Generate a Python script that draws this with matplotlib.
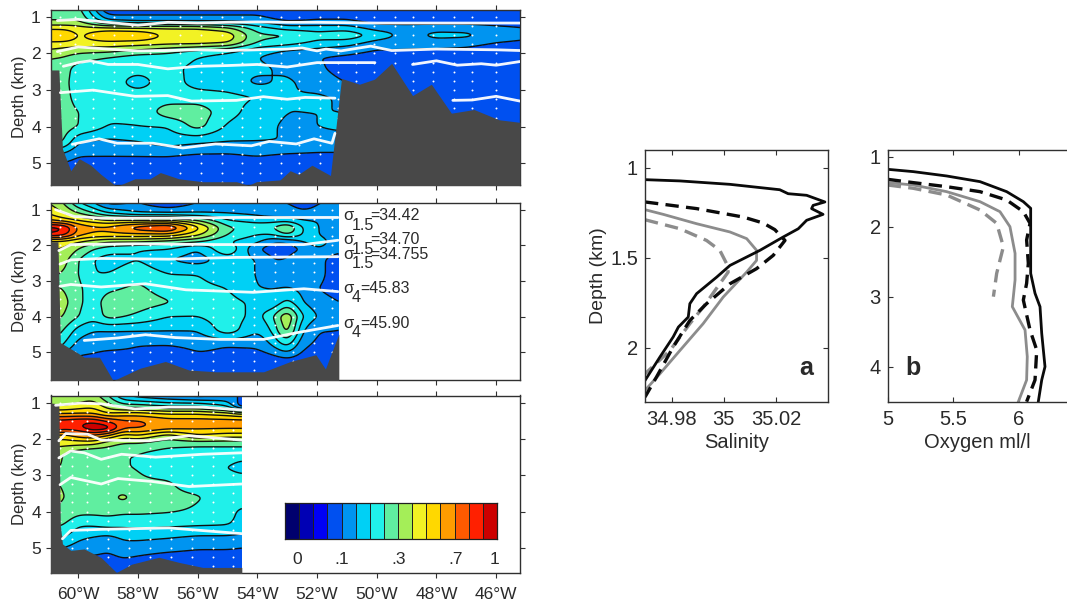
import numpy as np
import matplotlib
matplotlib.use("Agg")
import matplotlib.pyplot as plt
from matplotlib.colors import ListedColormap, BoundaryNorm

plt.rcParams['font.family'] = ['Liberation Sans', 'DejaVu Sans']
TXT = '#2a2a2a'
W, H = 1067, 603

band_colors = ['#00006e', '#0000b4', '#0000f5', '#0050f0', '#0094f0', '#00d0f5', '#20f0ea',
               '#60eea0', '#a4ee58', '#f2f224', '#ffd800', '#ff9c00', '#ff5a00', '#ff2000', '#cc0000']
levels = np.arange(0, 16)
cmap = ListedColormap(band_colors)
norm = BoundaryNorm(levels, cmap.N)

depths = [0.8, 1.1, 1.3, 1.5, 1.7, 1.9, 2.1, 2.4, 2.8, 3.2, 3.6, 4.0, 4.4, 4.8, 5.2, 5.8]

# Section 1
lon1 = [-61, -60.5, -60, -59, -58, -57, -56, -55, -54, -53, -52, -51, -50, -49, -48, -47, -46, -45]
val1 = [
 [7, 7, 7.5, 3, 3.5, 3.5, 3.5, 3.5, 3.5, 3, 3.5, 3.5, 3.5, 3.5, 3.5, 3.5, 3.5, 3.5],
 [8, 8, 8, 5, 4.5, 4.5, 4.5, 4.5, 4.5, 3.8, 4, 4, 3.5, 3.5, 3.5, 3.5, 3.5, 3.5],
 [9.6, 9.6, 9.4, 9.2, 9.1, 9.1, 9, 8.3, 6.5, 5.5, 5.5, 5.5, 4.5, 4.4, 4.5, 4.5, 4.2, 4],
 [11.4, 11.4, 9.8, 11.2, 11, 9.8, 9.9, 9.7, 7.2, 7.2, 6.4, 6.8, 5.8, 4.6, 5.4, 5.3, 4.6, 4.3],
 [9.8, 9.8, 9.7, 9.8, 9.7, 9.5, 9.5, 9.2, 7, 6.5, 5.8, 5.5, 4.6, 4.3, 4.5, 4.4, 4, 3.8],
 [9, 8.7, 8.5, 8.5, 8, 7.5, 7, 6.5, 5.5, 5, 4.8, 4.5, 4, 4, 3.9, 3.8, 3.5, 3.5],
 [8, 8, 7.5, 7, 6.5, 6.5, 6, 5.5, 5, 4.5, 4, 3.8, 3.5, 3.5, 3.5, 3.5, 3.5, 3.5],
 [8, 7.5, 6.5, 6.2, 6.3, 6.2, 5.8, 5, 5.2, 4.8, 4.2, 3.5, 3.4, 3.4, 3.4, 3.4, 3.4, 3.4],
 [7.5, 7.5, 6.2, 6.5, 5.6, 6.5, 5.6, 5.5, 4.8, 5.2, 4.5, 4, 3.5, 3.4, 3.4, 3.4, 3.4, 3.4],
 [7.5, 7.5, 6.5, 6.4, 6.5, 6.5, 6.5, 6.3, 6, 5, 5.2, 4.8, 3.5, 3.4, 3.4, 3.4, 3.4, 3.4],
 [7.5, 7.5, 7, 6.3, 6.2, 7.6, 7.6, 6.4, 5.5, 5, 5, 5, 3.5, 3.4, 3.4, 3.4, 3.4, 3.4],
 [7.5, 7.5, 7, 5.9, 6, 6, 7.4, 5.8, 5.4, 4.8, 5, 5.2, 3.5, 3.4, 3.4, 3.4, 3.4, 3.4],
 [7.4, 7.2, 5, 4.8, 5, 5.5, 5.2, 5, 5, 5, 4.6, 4.6, 3.5, 3.4, 3.4, 3.4, 3.4, 3.4],
 [5, 4.5, 4, 4, 4, 4, 3.8, 3.8, 4, 3.8, 3.8, 3.8, 3.5, 3.4, 3.4, 3.4, 3.4, 3.4],
 [3.4, 3.4, 3.4, 3.4, 3.4, 3.4, 3.4, 3.7, 3.4, 3.4, 3.4, 3.4, 3.4, 3.4, 3.4, 3.4, 3.4, 3.4],
 [3.4] * 18,
]
bot_lon1 = [-61, -60.65, -60.53, -60.25, -59.97, -59.58, -59.24, -58.72, -58.1, -57.6, -57.25, -56.63,
            -55.83, -54.7, -54.3, -54.03, -53.24, -52.9, -52.62, -52.17, -51.55, -51.18, -50.58, -50.07,
            -49.5, -48.8, -48.17, -47.5, -46.74, -45.9, -45.2]
bot_dep1 = [2.45, 2.45, 4.6, 5.2, 4.87, 5.05, 5.3, 5.63, 5.42, 5.42, 5.25, 5.42,
            5.5, 5.5, 5.6, 5.5, 5.45, 5.2, 5.3, 5.05, 5.33, 2.68, 2.84, 2.7,
            2.27, 3.15, 2.84, 3.63, 3.53, 3.81, 3.88]
iso1 = [
 ([-60.7, -60, -59, -58, -57, -56, -55, -54, -53, -52, -50, -48, -46, -45.2],
  [1.1, 1.07, 1.15, 1.23, 1.15, 1.17, 1.15, 1.14, 1.15, 1.15, 1.17, 1.17, 1.17, 1.17]),
 ([-60.7, -60, -59, -58, -57, -56, -55, -54, -53, -52.5, -52, -51.7, -51.2, -50.2, -49.5, -48, -46, -45.2],
  [1.95, 1.82, 1.88, 1.93, 1.92, 1.9, 1.92, 1.9, 1.88, 1.85, 1.93, 1.88, 1.93, 1.8, 1.92, 1.88, 1.9, 1.92]),
 ([-60.5, -60, -59.6, -59, -58, -57, -56, -55, -54, -53, -52, -50.06],
  [2.35, 2.25, 2.2, 2.3, 2.3, 2.42, 2.35, 2.33, 2.3, 2.37, 2.25, 2.25]),
 ([-48.8, -48, -47.3, -46.5, -46, -45.2], [2.3, 2.2, 2.32, 2.28, 2.32, 2.22]),
 ([-60.6, -59.5, -58.1, -57, -56.2, -54.7, -53.8, -53, -52.4, -51.4],
  [3.07, 3.0, 3.17, 3.15, 3.3, 3.28, 3.18, 3.25, 3.2, 3.22]),
 ([-47.45, -46.8, -46, -45.2], [3.28, 3.27, 3.17, 3.3]),
 ([-60.2, -59.3, -58.7, -57.5, -56.5, -55.4, -54.2, -53.6, -52.7, -52.1, -51.5, -51.4],
  [4.48, 4.33, 4.45, 4.45, 4.58, 4.47, 4.52, 4.4, 4.47, 4.33, 4.45, 4.18]),
]
sta1 = [-60.6, -60.1, -59.5, -58.8, -58.2, -57.6, -56.6, -55.9, -55.2, -54.5, -53.9, -53.2, -52.6,
        -51.9, -51.3, -50.7, -50.1, -49.4, -48.8, -48.1, -47.4, -46.8, -46.0]

# Section 2
lon2 = [-61, -60.5, -60, -59.5, -59, -58, -57, -56, -55, -54, -53.5, -53, -52.5, -52, -51.27]
val2 = [
 [9, 8, 6, 5, 3.5, 4, 3, 4, 4, 4, 4, 4, 3.5, 4, 4],
 [10, 9, 8, 7, 6, 5, 5, 5, 5, 4.8, 4.5, 4.5, 4.2, 4.2, 4],
 [11, 10.5, 10, 9.5, 9, 9, 9, 8, 6, 5.5, 5.5, 5.5, 5, 5, 4.5],
 [14.5, 14.3, 11.8, 11.3, 11.3, 12.8, 13.6, 10.4, 7.2, 6.8, 7, 8.4, 6, 5, 4.5],
 [14, 13.6, 11.4, 10.8, 10.8, 10.8, 10.8, 9.3, 7, 6, 6, 7.2, 6, 5, 4.5],
 [9.5, 9.5, 9, 8.5, 8, 8, 7.5, 7, 6, 5.2, 4, 4, 5, 5.5, 4.5],
 [9, 9, 8, 7, 6.5, 6, 6, 5, 7, 4, 3.5, 3.5, 4, 5, 4.5],
 [8.5, 8.5, 7, 6, 5.5, 6, 5, 4.5, 5.5, 5, 4, 4, 5, 4.5, 3.2],
 [8, 8, 7, 6, 6, 6.7, 6, 6, 5.5, 5, 4, 4.8, 5, 4.5, 3.2],
 [8, 8, 7.2, 6.5, 6.8, 7.2, 6.5, 6.2, 6, 5, 5, 5, 4.8, 4, 3.5],
 [9.6, 8.4, 7.2, 6.5, 7.5, 7.5, 7.1, 6.5, 6.3, 5.8, 5, 6.5, 5, 4.5, 4],
 [8.5, 8, 7, 6.3, 7.4, 6.8, 6, 6, 6.6, 5.6, 6.8, 9.2, 6, 5, 4],
 [8, 7, 5.5, 5, 5, 5, 5, 5, 6.6, 5, 6, 8.8, 5, 4, 4],
 [7, 6, 4.5, 4.3, 4.3, 4, 4, 4.2, 4, 4.2, 5, 6.4, 4.2, 3.8, 3.8],
 [5, 4, 3.8, 3.8, 3.5, 3.8, 3.3, 3.8, 3.8, 3.3, 3.5, 3.8, 3.5, 3.4, 3.4],
 [3.4] * 15,
]
bot_lon2 = [-61, -60.68, -60.6, -60.02, -59.8, -59.29, -58.83, -57.93, -57.08, -56.29, -55.38, -53.79,
            -52.89, -52.04, -51.72, -51.27]
bot_dep2 = [1.9, 1.9, 4.73, 5.02, 5.14, 5.14, 5.8, 5.45, 5.26, 5.5, 5.55, 5.55,
            5.26, 5.07, 5.47, 4.49]
iso2 = [
 ([-60.76, -60.14, -59.23, -56.96, -54.7, -51.3], [1.0, 1.19, 1.24, 1.24, 1.22, 1.22]),
 ([-60.65, -60.25, -58.1, -55.38, -53.57, -52.44, -51.3], [2.15, 1.98, 1.96, 1.98, 1.98, 1.98, 1.86]),
 ([-60.61, -60.25, -59.23, -56.96, -54.7, -51.3], [2.53, 2.41, 2.37, 2.39, 2.34, 2.32]),
 ([-60.61, -60.25, -59.23, -57.75, -56.39, -54.13, -52.44, -51.3], [3.15, 3.1, 3.17, 3.08, 3.25, 3.32, 3.22, 3.3]),
 ([-59.8, -58.67, -57.75, -56.74, -55.27, -53.79, -52.66, -51.3], [4.67, 4.6, 4.51, 4.59, 4.64, 4.64, 4.45, 4.25]),
]
sta2 = [-60.6, -60.1, -59.5, -58.8, -58.2, -57.6, -56.9, -56.2, -55.5, -54.8, -54.1, -53.4, -52.8, -52.1, -51.5]

# Section 3
lon3 = [-61, -60.5, -60, -59.5, -59, -58.5, -58, -57, -56, -55, -54.52]
val3 = [
 [8, 8, 8, 8.5, 7, 5, 4.5, 4, 3.5, 4, 4],
 [9, 9, 9.5, 9.8, 8.5, 7.5, 7.5, 7, 7, 6, 3],
 [11, 11, 11, 11, 10, 10.5, 10.5, 10, 10, 9.5, 9],
 [13.4, 13.4, 13.8, 13.8, 12.8, 12.2, 12.2, 11.5, 11.5, 11.5, 11.5],
 [14.5, 13.6, 13.8, 15, 14.8, 12.2, 12.2, 11.5, 11.2, 11.2, 11.2],
 [11, 10.5, 11.5, 12, 11, 9.5, 10, 8.5, 10, 9.5, 9.5],
 [9.5, 9.5, 9.5, 9.5, 8.5, 8, 8, 7.5, 7.5, 7.5, 7.5],
 [8.5, 8, 7.3, 6.8, 7.2, 7, 7, 6.5, 6.2, 6.2, 6.2],
 [8, 8, 7.5, 8, 7.2, 7, 7, 6.5, 6, 6, 5.8],
 [8, 8, 7.3, 7.3, 7.2, 7.1, 7.1, 7.1, 6.5, 6.3, 6.3],
 [8.2, 8.1, 7.5, 7.5, 7.6, 8.4, 7.5, 7.2, 7.1, 6.5, 6.5],
 [8.1, 7.8, 7.3, 7.3, 7.4, 7.2, 7.2, 7.1, 6.9, 6.3, 5.8],
 [7.1, 7, 6, 6, 6.2, 6.1, 6.2, 6.1, 6, 6, 5.8],
 [6, 5.8, 5, 4.7, 4.3, 5, 5, 4.8, 4.5, 4.5, 4.3],
 [5, 4.2, 4, 4, 3.9, 4.1, 4, 3.8, 3.7, 3.7, 3.7],
 [3.5] * 11,
]
bot_lon3 = [-61, -60.65, -60.6, -60.53, -60.25, -59.8, -59.23, -58.72, -58.21, -57.3, -56.63, -55.83, -54.52]
bot_dep3 = [1.0, 1.03, 4.38, 4.89, 5.07, 5.03, 5.27, 5.68, 5.45, 5.26, 5.4, 5.54, 5.54]
iso3 = [
 ([-60.76, -59.92, -59.23, -58.1, -56.96, -55.83, -54.52], [1.07, 1.01, 1.03, 1.17, 1.12, 1.12, 1.2]),
 ([-60.65, -60.42, -59.68, -59.23, -57.64, -56.29, -54.52], [2.05, 1.85, 1.87, 2.03, 2.05, 1.91, 2.03]),
 ([-60.65, -60.25, -59.8, -59.23, -58.55, -57.41, -55.83, -54.52], [2.52, 2.33, 2.38, 2.56, 2.42, 2.5, 2.42, 2.38]),
 ([-60.61, -60.25, -59.23, -58.67, -57.53, -56.29, -54.52], [3.26, 3.06, 3.24, 3.09, 3.17, 3.31, 3.24]),
 ([-60.53, -60.25, -59.23, -56.96, -54.52], [4.75, 4.52, 4.49, 4.45, 4.61]),
]
sta3 = [-60.6, -60.2, -59.7, -59.0, -58.3, -57.6, -56.9, -56.2, -55.5, -54.8]

sta_depths = [1.0, 1.25, 1.5, 1.75, 2.0, 2.25, 2.5, 2.75, 3.0, 3.25, 3.5, 3.75, 4.0, 4.25, 4.5, 4.75, 5.0, 5.25, 5.5]
lon_ticks = [-60, -58, -56, -54, -52, -50, -48, -46]
lon_labels = ['60°W', '58°W', '56°W', '54°W', '52°W', '50°W', '48°W', '46°W']
dep_ticks = [1, 2, 3, 4, 5]

# Colour bar
cb_vals = list(range(15))
cb_tick_pos = [0.84, 4.04, 8.06, 12.1, 14.8]
cb_tick_lab = ['0', '.1', '.3', '.7', '1']

# Salinity profiles
sal_k = [34.9698, 34.9832, 35.0024, 35.0215, 35.0247, 35.0318, 35.0388, 35.0343, 35.0337, 35.0381, 35.0318, 35.0286,
         35.0228, 35.0139, 35.0024, 34.9973, 34.9896, 34.987, 34.9864, 34.9826, 34.9806, 34.9755, 34.9698]
salz_k = [1.065, 1.072, 1.091, 1.121, 1.143, 1.152, 1.189, 1.208, 1.226, 1.258, 1.291, 1.338,
          1.384, 1.458, 1.542, 1.607, 1.699, 1.755, 1.829, 1.885, 1.94, 2.052, 2.182]
sal_kd = [34.9698, 34.9896, 35.0075, 35.0151, 35.0196, 35.0235, 35.019, 35.0126, 35.0024, 34.9934, 34.987, 34.9806, 34.9742, 34.9698]
salz_kd = [1.189, 1.226, 1.273, 1.306, 1.343, 1.403, 1.486, 1.56, 1.644, 1.755, 1.848, 1.996, 2.163, 2.274]
sal_g = [34.9698, 34.9768, 34.9896, 35.0024, 35.0088, 35.0126, 35.0126, 35.0088, 34.9998, 34.9921, 34.9832, 34.9755, 34.9698]
salz_g = [1.232, 1.258, 1.31, 1.356, 1.393, 1.458, 1.514, 1.579, 1.718, 1.866, 2.015, 2.145, 2.237]
sal_gd = [34.9698, 34.9832, 34.9934, 34.9985, 35.0011, 35.0017, 34.9985, 34.9921, 34.987, 34.9794, 34.9698]
salz_gd = [1.288, 1.338, 1.403, 1.458, 1.532, 1.579, 1.644, 1.774, 1.866, 2.015, 2.145]

# Oxygen profiles
oxy_k = [5, 5.195, 5.449, 5.703, 5.906, 6.033, 6.089, 6.089, 6.089, 6.122, 6.16, 6.173, 6.198, 6.173, 6.147]
oxyz_k = [1.181, 1.214, 1.276, 1.357, 1.5, 1.643, 1.738, 2.19, 2.667, 2.952, 3.143, 3.524, 4.0, 4.19, 4.5]
oxy_kd = [5, 5.195, 5.449, 5.703, 5.906, 6.033, 6.084, 6.058, 6.071, 6.058, 6.033, 6.084, 6.135, 6.122, 6.058]
oxyz_kd = [1.324, 1.371, 1.429, 1.5, 1.619, 1.786, 1.952, 2.19, 2.524, 2.81, 3.048, 3.476, 3.762, 4.19, 4.5]
oxy_g = [5, 5.195, 5.449, 5.703, 5.855, 5.931, 5.97, 5.97, 5.949, 6.046, 6.063, 6.058, 5.995]
oxyz_g = [1.371, 1.405, 1.5, 1.643, 1.786, 2.0, 2.381, 2.762, 3.143, 3.476, 3.857, 4.19, 4.5]
oxy_gd = [5, 5.195, 5.449, 5.703, 5.83, 5.881, 5.83, 5.805]
oxyz_gd = [1.405, 1.452, 1.548, 1.762, 1.952, 2.286, 2.667, 3.0]

fig = plt.figure(figsize=(W / 100, H / 100), dpi=100, facecolor='white')


def px_axes(x0, y0, x1, y1):
    return fig.add_axes([x0 / W, 1 - y1 / H, (x1 - x0) / W, (y1 - y0) / H])


def style(ax, size):
    for s in ax.spines.values():
        s.set_linewidth(1.0)
        s.set_color('#303030')
    ax.tick_params(labelsize=size, colors=TXT, width=0.8, length=3.5, color='#303030')


def blur1d(a, sigma, axis):
    r = int(3 * sigma) + 1
    k = np.exp(-0.5 * (np.arange(-r, r + 1) / sigma) ** 2)
    k /= k.sum()
    pad = [(0, 0), (0, 0)]
    pad[axis] = (r, r)
    b = np.pad(a, pad, mode='edge')
    return np.apply_along_axis(lambda m: np.convolve(m, k, mode='valid'), axis, b)


def smooth_field(lons, vals):
    # Round the hand-read grid into smooth contours on a fine drawing mesh.
    fx = np.arange(lons[0], lons[-1] + 1e-6, 0.04)
    fz = np.arange(depths[0], depths[-1] + 1e-6, 0.02)
    V = np.array(vals, float)
    a = np.array([np.interp(fx, lons, row) for row in V])
    a = np.array([np.interp(fz, depths, col) for col in a.T]).T
    a = blur1d(a, 4.0, 1)
    a = blur1d(a, 3.0, 0)
    return fx, fz, a


def section(box, ylim, lons, vals, bl, bd, isos, stas, last=False):
    ax = px_axes(*box)
    style(ax, 12.5)
    fx, fz, F = smooth_field(lons, vals)
    ax.contourf(fx, fz, F, levels=levels, cmap=cmap, norm=norm, zorder=1, extend='both')
    ax.contour(fx, fz, F, levels=levels, colors='#101010', linewidths=1.0, zorder=2)
    sx, sy = np.meshgrid(stas, sta_depths)
    ax.scatter(sx.ravel(), sy.ravel(), s=2.0, c='white', linewidths=0, zorder=3)
    ax.fill_between(bl, bd, 7, color='#484848', linewidth=0, zorder=4)
    for lx, lz in isos:
        ax.plot(lx, lz, color='white', lw=2.0, alpha=0.95, solid_capstyle='round', zorder=5)
    ax.set_xlim(-60.93, -45.2)
    ax.set_ylim(*ylim)
    ax.set_xticks(lon_ticks)
    ax.set_yticks(dep_ticks)
    ax.tick_params(top=True, right=True, bottom=True, direction='out')
    ax.tick_params(axis='x', labelbottom=last, pad=7)
    ax.set_xticklabels(lon_labels)
    ax.set_ylabel('Depth (km)', fontsize=12, color=TXT, labelpad=3)
    return ax


section((50.5, 9.5, 520, 185), (5.59, 0.8), lon1, val1, bot_lon1, bot_dep1, iso1, sta1)
section((50.5, 202.5, 520, 380), (5.78, 0.8), lon2, val2, bot_lon2, bot_dep2, iso2, sta2)
ax3 = section((50.5, 395.5, 520, 572.5), (5.68, 0.8), lon3, val3, bot_lon3, bot_dep3, iso3, sta3, last=True)

# Density labels beside section 2
density = [('1.5', '=34.42', 216), ('1.5', '=34.70', 240), ('1.5', '=34.755', 254), ('4', '=45.83', 288.5), ('4', '=45.90', 323)]
for sub, val, y in density:
    fig.text(343 / W, 1 - y / H, 'σ', fontsize=12, color=TXT, va='center', ha='left')
    fig.text(352 / W, 1 - (y + 9) / H, sub, fontsize=11.5, color=TXT, va='center', ha='left')
    fig.text((370 if sub == '1.5' else 360) / W, 1 - y / H, val, fontsize=11.5, color=TXT, va='center', ha='left')

# Colour bar
cax = px_axes(285, 503, 497, 539)
cax.pcolormesh(np.arange(16), [0, 1], np.array([cb_vals]), cmap=cmap, norm=norm,
               edgecolors='#202020', linewidth=0.6)
cax.set_yticks([])
cax.set_xticks(cb_tick_pos)
cax.set_xticklabels(cb_tick_lab)
cax.tick_params(length=0, labelsize=12.5, colors=TXT, pad=9)
for s in cax.spines.values():
    s.set_linewidth(0.9)
    s.set_color('#202020')

# Salinity panel
axa = px_axes(645, 150, 828, 401.7)
style(axa, 14.5)
axa.plot(sal_gd, salz_gd, color='#8c8c8c', lw=2.4, dashes=(4, 2.2))
axa.plot(sal_g, salz_g, color='#8c8c8c', lw=2.0)
axa.plot(sal_kd, salz_kd, color='#0a0a0a', lw=2.4, dashes=(4, 2.2))
axa.plot(sal_k, salz_k, color='#0a0a0a', lw=2.0)
axa.set_xlim(34.9698, 35.04)
axa.set_ylim(2.30, 0.90)
axa.set_xticks([34.98, 35, 35.02])
axa.set_xticklabels(['34.98', '35', '35.02'])
axa.set_yticks([1, 1.5, 2])
axa.set_yticklabels(['1', '1.5', '2'])
axa.tick_params(direction='in', top=True, right=True)
axa.tick_params(axis='x', pad=6)
axa.tick_params(axis='y', pad=5)
axa.set_xlabel('Salinity', fontsize=14.5, color=TXT, labelpad=3)
axa.set_ylabel('Depth (km)', fontsize=14, color=TXT, labelpad=2)
axa.text(0.88, 0.135, 'a', transform=axa.transAxes, fontsize=18, fontweight='bold', color=TXT, ha='center', va='center')

# Oxygen panel
axb = px_axes(887.7, 150, 1067, 401.7)
style(axb, 14.5)
axb.plot(oxy_gd, oxyz_gd, color='#8c8c8c', lw=2.4, dashes=(4, 2.2))
axb.plot(oxy_g, oxyz_g, color='#8c8c8c', lw=2.0)
axb.plot(oxy_kd, oxyz_kd, color='#0a0a0a', lw=2.4, dashes=(4, 2.2))
axb.plot(oxy_k, oxyz_k, color='#0a0a0a', lw=2.0)
axb.set_xlim(5, 5 + (1067 - 887.7) / 131.3)
axb.set_ylim(4.5, 0.905)
axb.set_xticks([5, 5.5, 6])
axb.set_xticklabels(['5', '5.5', '6'])
axb.set_yticks([1, 2, 3, 4])
axb.spines['right'].set_visible(False)
axb.tick_params(direction='in', top=True)
axb.tick_params(axis='x', pad=6)
axb.tick_params(axis='y', pad=5)
axb.set_xlabel('Oxygen ml/l', fontsize=14.5, color=TXT, labelpad=3)
axb.text(0.143, 0.135, 'b', transform=axb.transAxes, fontsize=18, fontweight='bold', color=TXT, ha='center', va='center')

fig.savefig('out.png', dpi=100)
